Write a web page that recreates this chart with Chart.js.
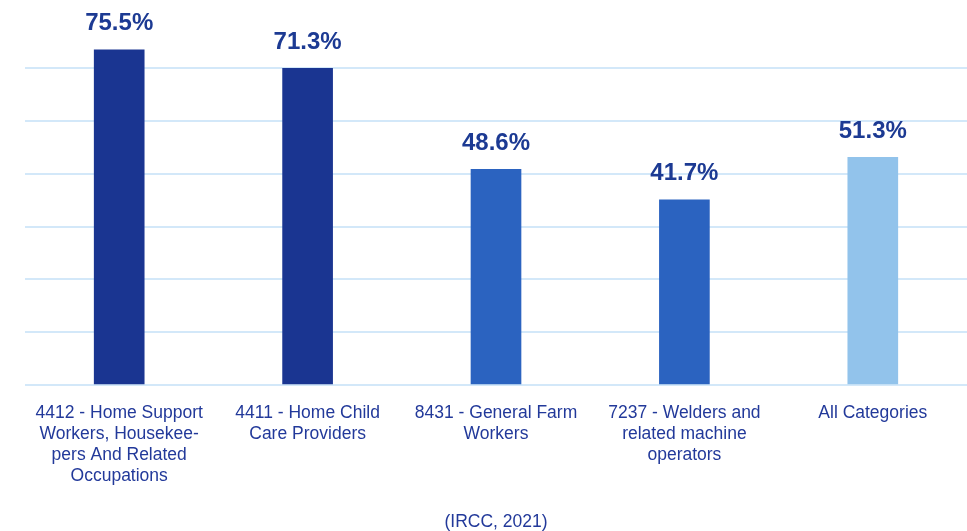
<!DOCTYPE html>
<html>
<head>
<meta charset="utf-8">
<script src="https://cdn.jsdelivr.net/npm/chart.js@4/dist/chart.umd.min.js"></script>
<style>
  html, body { margin: 0; padding: 0; background: #fff; }
  #wrap { width: 967px; height: 531px; }
</style>
</head>
<body>
<div id="wrap"><canvas id="occChart"></canvas></div>
<script>
/* DATA */

const categories = [
  ["4412 - Home Support", "Workers, Housekee-", "pers And Related", "Occupations"],
  ["4411 - Home Child", "Care Providers"],
  ["8431 - General Farm", "Workers"],
  ["7237 - Welders and", "related machine", "operators"],
  ["All Categories"]
];

const shareValues = [75.5, 71.3, 48.6, 41.7, 51.3];

const barColors = ["#1a3591", "#1a3591", "#2b63c0", "#2b63c0", "#92c3eb"];

const sourceNote = "(IRCC, 2021)";

/* LABELS ON TOP OF BARS */

const valueLabels = {
  id: "valueLabels",
  afterDatasetsDraw(chart){
    const ctx = chart.ctx;
    const meta = chart.getDatasetMeta(0);
    ctx.save();
    ctx.font = "bold 24px 'Liberation Sans', Arial, sans-serif";
    ctx.fillStyle = "#1c3a93";
    ctx.textAlign = "center";
    ctx.textBaseline = "middle";
    meta.data.forEach((bar, i) => {
      ctx.fillText(shareValues[i].toFixed(1) + "%", bar.x, bar.y - 26);
    });
    ctx.restore();
  }
};

/* CHART */

const ctx = document.getElementById("occChart");

new Chart(ctx, {
  type: "bar",
  data: {
    labels: categories,
    datasets: [{
      data: shareValues,
      backgroundColor: barColors,
      barThickness: 50,
      clip: false
    }]
  },
  options: {
    responsive: true,
    maintainAspectRatio: false,
    animation: false,
    layout: {
      padding: { left: 25, right: 0, top: 68, bottom: 0 }
    },
    plugins: {
      legend: { display: false },
      tooltip: { enabled: false },
      title: {
        display: true,
        position: "bottom",
        fullSize: false,
        text: sourceNote,
        color: "#22399a",
        font: { family: "'Liberation Sans', Arial, sans-serif", size: 17.5, weight: "normal", lineHeight: 1 },
        padding: { top: 16.5, bottom: 0 }
      }
    },
    scales: {
      x: {
        grid: { display: false },
        border: { display: false },
        ticks: {
          color: "#22399a",
          maxRotation: 0,
          autoSkip: false,
          padding: 10,
          font: { family: "'Liberation Sans', Arial, sans-serif", size: 17.5, lineHeight: 1.2 }
        }
      },
      y: {
        min: 0,
        max: 71.4,
        border: { display: false },
        grid: { color: "#d3e8f9", lineWidth: 2, drawTicks: false },
        ticks: { display: false, stepSize: 11.9 }
      }
    }
  },
  plugins: [valueLabels]
});
</script>
</body>
</html>
